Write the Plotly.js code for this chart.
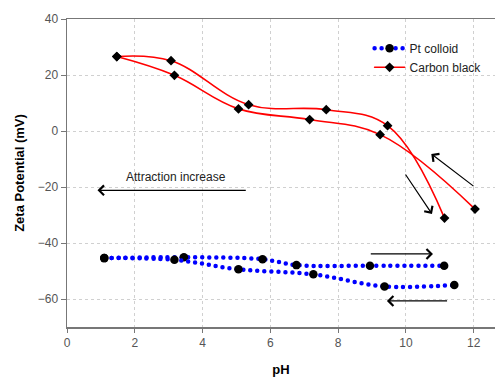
<!DOCTYPE html>
<html><head><meta charset="utf-8">
<script src="https://cdn.plot.ly/plotly-3.0.1.min.js"></script>
<style>
html,body{margin:0;padding:0;background:#fff;}
#chart{width:495px;height:377px;}
path.js-line{stroke-linecap:round;}
</style>
</head><body>
<div id="chart"></div>
<script>
// Pt colloid branches
const ptUpX = [1.1, 3.45, 5.77, 6.77, 8.94, 11.13];
const ptUpY = [-45.4, -45.1, -45.8, -47.9, -48.1, -48.1];
const ptLowX = [1.1, 3.17, 5.06, 7.27, 9.37, 11.43];
const ptLowY = [-45.4, -46.0, -49.4, -51.2, -55.5, -55.0];
// Carbon black branches
const cbUpX = [1.47, 3.07, 5.36, 7.65, 9.46, 11.14];
const cbUpY = [26.6, 25.1, 9.4, 7.6, 1.9, -31.1];
const cbLowX = [1.47, 3.17, 5.06, 7.16, 9.24, 12.04];
const cbLowY = [26.6, 19.9, 7.9, 4.1, -1.3, -27.9];
const xTicks = [0, 2, 4, 6, 8, 10, 12];
const yTicks = [-60, -40, -20, 0, 20, 40];

const ptLine = {color: '#0000ff', width: 4.5, dash: '0px,7px', shape: 'spline', smoothing: 1};
const ptMarker = {symbol: 'circle', size: 8.5, color: '#000'};
const cbLine = {color: '#ff0000', width: 1.6, shape: 'spline', smoothing: 1.1};
const cbMarker = {symbol: 'diamond', size: 7.5, color: '#000'};

const traces = [
  {x: ptUpX, y: ptUpY, mode: 'lines+markers', name: 'Pt colloid', line: ptLine, marker: ptMarker, legendgroup: 'pt'},
  {x: ptLowX, y: ptLowY, mode: 'lines+markers', name: 'Pt colloid', line: ptLine, marker: ptMarker, legendgroup: 'pt', showlegend: false},
  {x: cbUpX, y: cbUpY, mode: 'lines+markers', name: 'Carbon black', line: cbLine, marker: cbMarker, legendgroup: 'cb'},
  {x: cbLowX, y: cbLowY, mode: 'lines+markers', name: 'Carbon black', line: cbLine, marker: cbMarker, legendgroup: 'cb', showlegend: false}
];

function arrow(hx, hy, tx, ty) {
  return {x: hx, y: hy, ax: tx, ay: ty, xref: 'x', yref: 'y', axref: 'x', ayref: 'y',
    showarrow: true, arrowhead: 4, arrowsize: 1.6, arrowwidth: 1.2, arrowcolor: '#000', text: ''};
}

const layout = {
  width: 495, height: 377,
  margin: {l: 67, r: 0, t: 19, b: 50},
  paper_bgcolor: '#fff', plot_bgcolor: '#fff',
  font: {family: 'Liberation Sans, Arial, sans-serif', size: 12, color: '#333'},
  showlegend: true,
  legend: {x: 0.707, y: 0.952, xanchor: 'left', yanchor: 'top', bgcolor: 'rgba(0,0,0,0)',
    font: {size: 12, color: '#222'}, tracegroupgap: 0, itemwidth: 30},
  xaxis: {range: [0, 12.63], tickvals: xTicks, ticks: 'outside', ticklen: 4, tickcolor: '#777',
    showline: true, linecolor: '#777', linewidth: 1.5,
    mirror: true, showgrid: true, gridcolor: '#d0d0d0', griddash: 'dot', gridwidth: 1, zeroline: false,
    tickfont: {size: 12, color: '#555'},
    title: {text: '<b>pH</b>', font: {size: 13, color: '#000'}, standoff: 17}},
  yaxis: {range: [-70, 40], tickvals: yTicks, ticks: 'outside', ticklen: 5, tickcolor: '#777', showline: true,
    linecolor: '#777', linewidth: 1.5, mirror: true, showgrid: true, gridcolor: '#d0d0d0', griddash: 'dot',
    gridwidth: 1, zeroline: false, tickfont: {size: 12, color: '#555'},
    title: {text: '<b>Zeta Potential (mV)</b>', font: {size: 13, color: '#000'}, standoff: 10}},
  annotations: [
    {x: 3.22, y: -16.4, xref: 'x', yref: 'y', text: 'Attraction increase', showarrow: false,
      font: {size: 12, color: '#222'}},
    arrow(0.9, -21.2, 5.32, -21.2),
    arrow(10.75, -8.2, 12.04, -20.1),
    arrow(10.77, -29.6, 9.96, -15.0),
    arrow(10.8, -43.9, 8.92, -43.9),
    arrow(9.44, -60.7, 11.26, -60.7)
  ]
};

Plotly.newPlot('chart', traces, layout, {displayModeBar: false, staticPlot: true});
</script>
</body></html>
